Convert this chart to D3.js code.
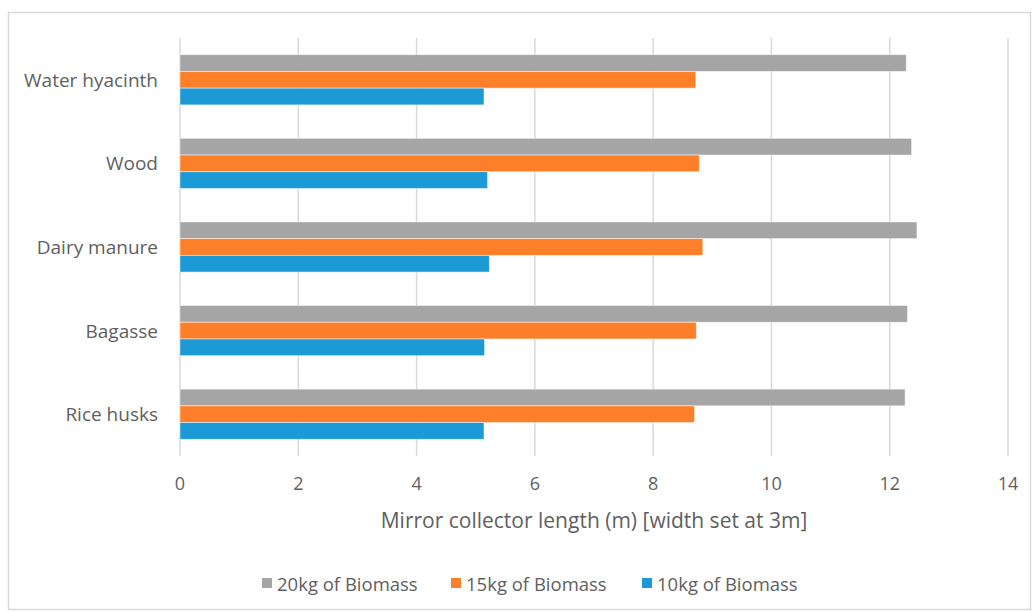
<!DOCTYPE html>
<html>
<head>
<meta charset="utf-8">
<script src="https://cdn.jsdelivr.net/npm/d3@7"></script>
<style>
  body { margin: 0; background: #fff; }
  svg text { font-family: "Open Sans", sans-serif; fill: #5f5f5f; }
</style>
</head>
<body>
<svg width="1032" height="611"></svg>
<script>
// categories top to bottom
const categories = ['Water hyacinth', 'Wood', 'Dairy manure', 'Bagasse', 'Rice husks'];
const seriesNames = ['20kg of Biomass', '15kg of Biomass', '10kg of Biomass'];
const seriesColors = ['#a5a5a5', '#fe7f2a', '#1b9ad6'];

const biomass20 = [12.28, 12.37, 12.46, 12.30, 12.26];
const biomass15 = [8.72, 8.78, 8.84, 8.73, 8.70];
const biomass10 = [5.14, 5.20, 5.23, 5.15, 5.14];
const xTicks = [0, 2, 4, 6, 8, 10, 12, 14];

const seriesValues = [biomass20, biomass15, biomass10];

const svg = d3.select('svg');

// outer frame
svg.append('rect')
    .attr('x', 8.5).attr('y', 12.5)
    .attr('width', 1022).attr('height', 597)
    .attr('fill', 'none')
    .attr('stroke', '#d9d9d9')
    .attr('stroke-width', 1.5);

const plot = {left: 180, right: 1008, top: 38, bottom: 456};

const x = d3.scaleLinear().domain([0, 14]).range([plot.left, plot.right]);
const y = d3.scaleBand().domain(categories).range([plot.top, plot.bottom])
    .paddingInner(0.4).paddingOuter(0.2);
const ySub = d3.scaleBand().domain(seriesNames).range([0, y.bandwidth()]);

// gridlines
svg.append('g').selectAll('line')
    .data(xTicks)
    .enter()
    .append('line')
    .attr('x1', d => x(d)).attr('x2', d => x(d))
    .attr('y1', plot.top).attr('y2', plot.bottom)
    .attr('stroke', '#d9d9d9')
    .attr('stroke-width', 1.5);

// bars
const groups = svg.append('g').selectAll('g')
    .data(categories)
    .enter()
    .append('g')
    .attr('transform', d => 'translate(0,' + y(d) + ')');

groups.selectAll('rect')
    .data((c, i) => seriesNames.map((s, j) => ({s: s, v: seriesValues[j][i], color: seriesColors[j]})))
    .enter()
    .append('rect')
    .attr('x', x(0))
    .attr('y', d => ySub(d.s))
    .attr('width', d => x(d.v) - x(0))
    .attr('height', ySub.bandwidth())
    .attr('fill', d => d.color)
    .attr('stroke', 'rgba(255,255,255,0.6)')
    .attr('stroke-width', 0.8);

// y axis labels
svg.append('g').selectAll('text')
    .data(categories)
    .enter()
    .append('text')
    .attr('x', 158)
    .attr('y', d => y(d) + y.bandwidth() / 2)
    .attr('text-anchor', 'end')
    .attr('dominant-baseline', 'central')
    .style('font-size', '19px')
    .text(d => d);

// x tick labels
svg.append('g').selectAll('text')
    .data(xTicks)
    .enter()
    .append('text')
    .attr('x', d => x(d))
    .attr('y', 483)
    .attr('text-anchor', 'middle')
    .attr('dominant-baseline', 'central')
    .style('font-size', '18px')
    .text(d => d);

// axis title
svg.append('text')
    .attr('x', (plot.left + plot.right) / 2)
    .attr('y', 520)
    .attr('text-anchor', 'middle')
    .attr('dominant-baseline', 'central')
    .style('font-size', '21px')
    .text('Mirror collector length (m) [width set at 3m]');

// legend
const legendX = [262, 451, 642];
const legend = svg.append('g').selectAll('g')
    .data(seriesNames)
    .enter()
    .append('g')
    .attr('transform', (d, i) => 'translate(' + legendX[i] + ',583)');
legend.append('rect')
    .attr('x', 0).attr('y', -5)
    .attr('width', 10).attr('height', 10)
    .attr('fill', (d, i) => seriesColors[i]);
legend.append('text')
    .attr('x', 15)
    .attr('y', 0)
    .attr('dominant-baseline', 'central')
    .style('font-size', '18.5px')
    .text(d => d);
</script>
</body>
</html>
